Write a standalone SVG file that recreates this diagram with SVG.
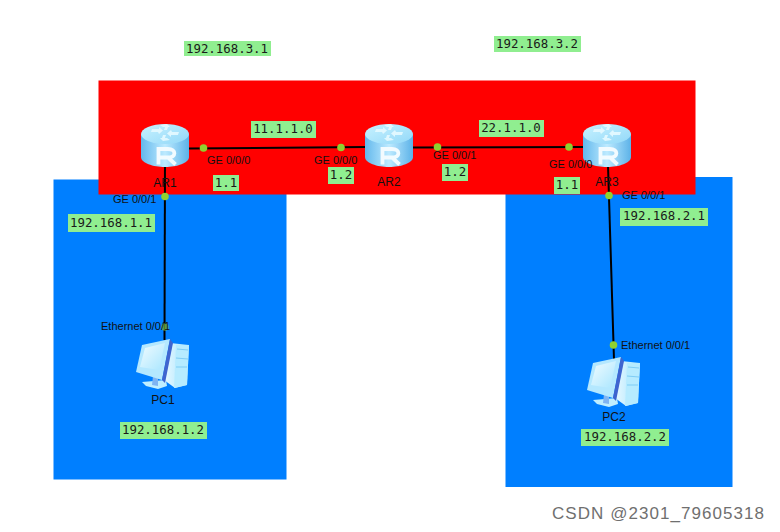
<svg xmlns="http://www.w3.org/2000/svg" width="780" height="532" viewBox="0 0 780 532">
<style>
.ip{font:12.4px "DejaVu Sans Mono","Liberation Mono",monospace;fill:#1a1a1a;text-anchor:middle}
.ipb{fill:#90ee90}
.l{font:11px "Liberation Sans",Arial,sans-serif;fill:#111}
.n{font:12px "Liberation Sans",Arial,sans-serif;fill:#111;text-anchor:middle}
.c{stroke:#000;stroke-width:2;fill:none}
.d{fill:#8fd12f}
</style>
<defs>
<linearGradient id="rb" x1="0" x2="1" y1="0" y2="0"><stop offset="0" stop-color="#63b8ec"/><stop offset=".5" stop-color="#bdeaff"/><stop offset="1" stop-color="#5cb2e8"/></linearGradient>
<linearGradient id="rt" x1="0" x2="1" y1="0" y2="1"><stop offset="0" stop-color="#c8f2ff"/><stop offset="1" stop-color="#92d8f8"/></linearGradient>
<linearGradient id="ps" x1="0" x2="1" y1="0" y2="1"><stop offset="0" stop-color="#f2fcff"/><stop offset="1" stop-color="#a9e6ff"/></linearGradient>
<linearGradient id="pt" x1="0" x2="1" y1="0" y2="0"><stop offset="0" stop-color="#e8f9ff"/><stop offset="1" stop-color="#a4e2ff"/></linearGradient>
<g id="router">
<path d="M-24-23V0C-24 6-12 10 0 10S24 6 24 0V-23Z" fill="url(#rb)"/>
<ellipse cx="0" cy="-23" rx="24" ry="10" fill="url(#rt)"/>
<path d="M-2-30l-3-2 7-1 3 3-2 0-1 3-3 0 1-3zM-6-23l-1-2-7 0 1-3 7 0 0-2 4 3.500zM6-27l1 2 7 0-1 3-7 0 0 2-4-3.500zM2-19l3 2-7 1-3-3 2 0 1-3 3 0-1 3z" fill="#e6f9ff" opacity=".9"/>
<path d="M-6.500 7.500V-8H3C11.500-8 11.500 0.500 3 0.500L10.500 7.500M-6.500 0.500H3" fill="none" stroke="#f2fbff" stroke-width="3.800"/>
</g>
<g id="pc">
<path d="M170 343L189 345 187 385 175 388 164 380Z" fill="url(#pt)"/>
<path d="M176 345L189 345 187 385 174 388Z" fill="#b6ebff"/>
<path d="M177 349L188 350M176 367L187 367M176 358L188 359" stroke="#7fcdf5" stroke-width="1" fill="none"/>
<path d="M142 382L166 380 167 386 158 389 146 386Z" fill="#bfeeff"/>
<path d="M153 376L158 378 158 386 152 385Z" fill="#7fb4f2"/>
<path d="M142 345L170 339 162 380 136 372Z" fill="#b4e8ff"/>
<path d="M145 348L165 343 159 370 140 367Z" fill="url(#ps)"/>
<path d="M170 339L173 343 165 383 162 380Z" fill="#3f64cf"/>
</g>
</defs>
<rect width="780" height="532" fill="#fff"/>
<rect id="area-left" x="53.500" y="179.500" width="233" height="300" fill="#007fff"/>
<rect id="area-right" x="505.500" y="177" width="227" height="310" fill="#007fff"/>
<rect id="area-top" x="98.500" y="80.500" width="597" height="114" fill="#f00"/>
<g id="connectors">
<path class="c" d="M165 160L164.500 340"/>
<path class="c" d="M189 148.500L366 147"/>
<path class="c" d="M413 147.500L584 147"/>
<path class="c" d="M608 165L614 360"/>
<circle class="d" cx="203.500" cy="148" r="3.800"/>
<circle class="d" cx="341" cy="147.500" r="3.800"/>
<circle class="d" cx="165" cy="196.500" r="3.800"/>
<circle class="d" cx="165" cy="327" r="3.800" opacity=".6"/>
<circle class="d" cx="437.500" cy="147" r="3.800"/>
<circle class="d" cx="569" cy="147" r="3.800"/>
<circle class="d" cx="609" cy="195.500" r="3.800"/>
<circle class="d" cx="613.500" cy="345" r="3.800"/>
</g>
<g id="AR1"><use href="#router" x="165" y="157"/><text class="n" x="165" y="187">AR1</text></g>
<g id="AR2"><use href="#router" x="389" y="157"/><text class="n" x="389" y="186">AR2</text></g>
<g id="AR3"><use href="#router" x="607" y="157"/><text class="n" x="607" y="186">AR3</text></g>
<g id="PC1"><use href="#pc"/><text class="n" x="163" y="404">PC1</text></g>
<g id="PC2"><use href="#pc" x="451" y="18"/><text class="n" x="614" y="421">PC2</text></g>
<g id="port-labels">
<text class="l" x="207" y="164">GE 0/0/0</text>
<text class="l" x="314" y="164">GE 0/0/0</text>
<text class="l" x="113" y="203">GE 0/0/1</text>
<text class="l" x="101" y="330">Ethernet 0/0/1</text>
<text class="l" x="433" y="159">GE 0/0/1</text>
<text class="l" x="549" y="168">GE 0/0/0</text>
<text class="l" x="622" y="199">GE 0/0/1</text>
<text class="l" x="621" y="349">Ethernet 0/0/1</text>
</g>
<g id="ip-labels">
<rect class="ipb" x="184" y="41" width="87" height="15"/><text class="ip" x="227" y="52.500">192.168.3.1</text>
<rect class="ipb" x="494" y="36" width="87" height="16"/><text class="ip" x="537" y="48">192.168.3.2</text>
<rect class="ipb" x="251" y="121" width="65" height="17"/><text class="ip" x="283" y="133">11.1.1.0</text>
<rect class="ipb" x="479" y="120" width="65" height="17"/><text class="ip" x="511" y="132">22.1.1.0</text>
<rect class="ipb" x="213" y="175" width="26" height="16"/><text class="ip" x="226" y="187">1.1</text>
<rect class="ipb" x="328" y="167" width="26" height="17"/><text class="ip" x="341" y="179">1.2</text>
<rect class="ipb" x="442" y="164" width="26" height="17"/><text class="ip" x="455" y="176">1.2</text>
<rect class="ipb" x="554" y="177" width="26" height="17"/><text class="ip" x="567" y="189">1.1</text>
<rect class="ipb" x="68" y="214" width="87" height="18"/><text class="ip" x="111" y="227">192.168.1.1</text>
<rect class="ipb" x="620" y="208" width="88" height="18"/><text class="ip" x="664" y="220">192.168.2.1</text>
<rect class="ipb" x="120" y="422" width="87" height="17"/><text class="ip" x="163" y="434">192.168.1.2</text>
<rect class="ipb" x="581" y="429" width="88" height="17"/><text class="ip" x="625" y="441">192.168.2.2</text>
</g>
<text x="552" y="519" font-family="Liberation Sans,Arial,sans-serif" font-size="17" fill="#6f6f6f" letter-spacing="1.05">CSDN @2301_79605318</text>
</svg>
